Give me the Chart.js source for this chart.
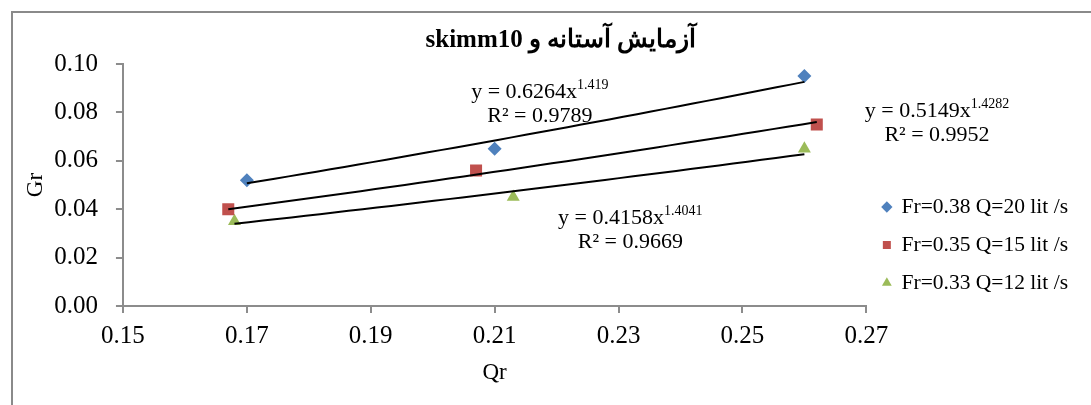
<!DOCTYPE html>
<html>
<head>
<meta charset="utf-8">
<title>skimm10</title>
<script src="https://cdn.jsdelivr.net/npm/chart.js@4.4.0/dist/chart.umd.min.js"></script>
<style>
  html, body { margin: 0; padding: 0; background: #fff; }
  canvas { display: block; }
</style>
</head>
<body>
<canvas id="chart" width="1091" height="405"></canvas>
<script>
/*
  Measured points, one pair of arrays per run
*/
var seriesNames = ['Fr=0.38 Q=20 lit /s', 'Fr=0.35 Q=15 lit /s', 'Fr=0.33 Q=12 lit /s'];
var qr20 = [0.170, 0.210, 0.260];
var gr20 = [0.052, 0.065, 0.095];
var qr15 = [0.167, 0.207, 0.262];
var gr15 = [0.040, 0.056, 0.075];
var qr12 = [0.168, 0.213, 0.260];
var gr12 = [0.035, 0.045, 0.065];

// power trendlines  y = a * x^b
var fitA = [0.6264, 0.5149, 0.4158];
var fitB = [1.419, 1.4282, 1.4041];
var fitR2 = [0.9789, 0.9952, 0.9669];
// where each equation sits (Qr, Gr)
var fitLabelQr = [0.2173, 0.2814, 0.2319];
var fitLabelGr = [0.0884, 0.0805, 0.0361];

var xTicks = [0.15, 0.17, 0.19, 0.21, 0.23, 0.25, 0.27];
var yTicks = [0.00, 0.02, 0.04, 0.06, 0.08, 0.10];

var titleText = 'آزمایش آستانه و skimm10';

var blue = '#4F81BD';
var red = '#C0504D';
var green = '#9BBB59';
var axisGray = '#8c8c8c';
var serif = "'Liberation Serif', 'Times New Roman', serif";

Chart.defaults.font.family = serif;
Chart.defaults.color = '#000';

var toPoints = (xs, ys) => xs.map((x, i) => ({x: x, y: ys[i]}));

var powerCurve = (a, b, xs) => {
  var lo = Math.min.apply(null, xs);
  var hi = Math.max.apply(null, xs);
  var pts = [];
  for (var i = 0; i <= 40; i++) {
    var x = lo + (hi - lo) * i / 40;
    pts.push({x: x, y: a * Math.pow(x, b)});
  }
  return pts;
}

var pointSet = (label, xs, ys, color, style, radius) => ({
  label: label,
  data: toPoints(xs, ys),
  backgroundColor: color,
  borderColor: color,
  borderWidth: 0,
  pointStyle: style,
  pointRadius: radius,
  order: 1
});

var trendSet = (i, xs) => ({
  label: 'fit' + i,
  data: powerCurve(fitA[i], fitB[i], xs),
  showLine: true,
  borderColor: '#000',
  borderWidth: 2,
  pointRadius: 0,
  fill: false,
  order: 0
});

// white page + outer frame
var frame = {
  id: 'frame',
  beforeDraw(chart) {
    var ctx = chart.ctx;
    ctx.save();
    ctx.fillStyle = '#fff';
    ctx.fillRect(0, 0, chart.width, chart.height);
    ctx.fillStyle = '#8a8a8a';
    ctx.fillRect(11, 11, chart.width - 11, 2);
    ctx.fillRect(11, 11, 2, chart.height - 11);
    ctx.restore();
  }
};

// trendline equations with superscript exponent
var fitLabels = {
  id: 'fitLabels',
  afterDatasetsDraw(chart) {
    var ctx = chart.ctx;
    var xs = chart.scales.x;
    var ys = chart.scales.y;
    var big = '22px ' + serif;
    var small = '14px ' + serif;
    ctx.save();
    ctx.fillStyle = '#000';
    ctx.textBaseline = 'middle';
    fitA.forEach((a, i) => {
      var cx = xs.getPixelForValue(fitLabelQr[i]);
      var cy = ys.getPixelForValue(fitLabelGr[i]);
      var base = 'y = ' + a + 'x';
      var sup = String(fitB[i]);
      ctx.font = big;
      var wb = ctx.measureText(base).width;
      ctx.font = small;
      var ws = ctx.measureText(sup).width;
      var left = cx - (wb + ws) / 2;
      ctx.textAlign = 'left';
      ctx.font = big;
      ctx.fillText(base, left, cy);
      ctx.font = small;
      ctx.fillText(sup, left + wb, cy - 7);
      ctx.font = big;
      ctx.textAlign = 'center';
      ctx.fillText('R² = ' + fitR2[i], cx, cy + 24);
    });
    ctx.restore();
  }
};

var chart = new Chart(document.getElementById('chart'), {
  type: 'scatter',
  data: {
    datasets: [
      pointSet(seriesNames[0], qr20, gr20, blue, 'rectRot', 7),
      pointSet(seriesNames[1], qr15, gr15, red, 'rect', 8.5),
      pointSet(seriesNames[2], qr12, gr12, green, 'triangle', 7.5),
      trendSet(0, qr20),
      trendSet(1, qr15),
      trendSet(2, qr12)
    ]
  },
  options: {
    responsive: false,
    animation: false,
    layout: {
      // wider left padding pushes the centred title right; the y title pulls back with negative padding
      padding: {left: 44, right: 13, top: 12, bottom: 12}
    },
    plugins: {
      title: {
        display: true,
        text: '\u202B' + titleText + '\u202C',
        font: {size: 25, weight: 'bold'},
        padding: {top: 14, bottom: 8}
      },
      legend: {
        position: 'right',
        align: 'center',
        title: {
          display: true,
          text: '',
          font: {size: 10},
          padding: {top: 73, bottom: 0}
        },
        labels: {
          usePointStyle: true,
          boxWidth: 8,
          boxHeight: 8,
          padding: 16.5,
          font: {size: 21.5},
          filter: (item) => item.datasetIndex < 3
        }
      },
      tooltip: {enabled: false}
    },
    scales: {
      x: {
        type: 'linear',
        min: xTicks[0],
        max: xTicks[xTicks.length - 1],
        afterBuildTicks: (axis) => { axis.ticks = xTicks.map(v => ({value: v})) },
        ticks: {
          padding: 8,
          font: {size: 25},
          maxRotation: 0,
          autoSkip: false,
          callback: (v) => v.toFixed(2)
        },
        title: {
          display: true,
          text: 'Qr',
          font: {size: 23},
          padding: {top: 0.4, bottom: 6}
        },
        grid: {
          drawOnChartArea: false,
          tickLength: 7,
          color: axisGray,
          lineWidth: 2
        },
        border: {color: axisGray, width: 2}
      },
      y: {
        type: 'linear',
        min: yTicks[0],
        max: yTicks[yTicks.length - 1],
        afterBuildTicks: (axis) => { axis.ticks = yTicks.map(v => ({value: v})) },
        ticks: {
          padding: 18,
          font: {size: 25},
          autoSkip: false,
          callback: (v) => v.toFixed(2)
        },
        title: {
          display: true,
          text: 'Gr',
          font: {size: 23},
          padding: {top: -21.8, bottom: -13.6}
        },
        grid: {
          drawOnChartArea: false,
          tickLength: 7,
          color: axisGray,
          lineWidth: 2
        },
        border: {color: axisGray, width: 2}
      }
    }
  },
  plugins: [frame, fitLabels]
});
</script>
</body>
</html>
